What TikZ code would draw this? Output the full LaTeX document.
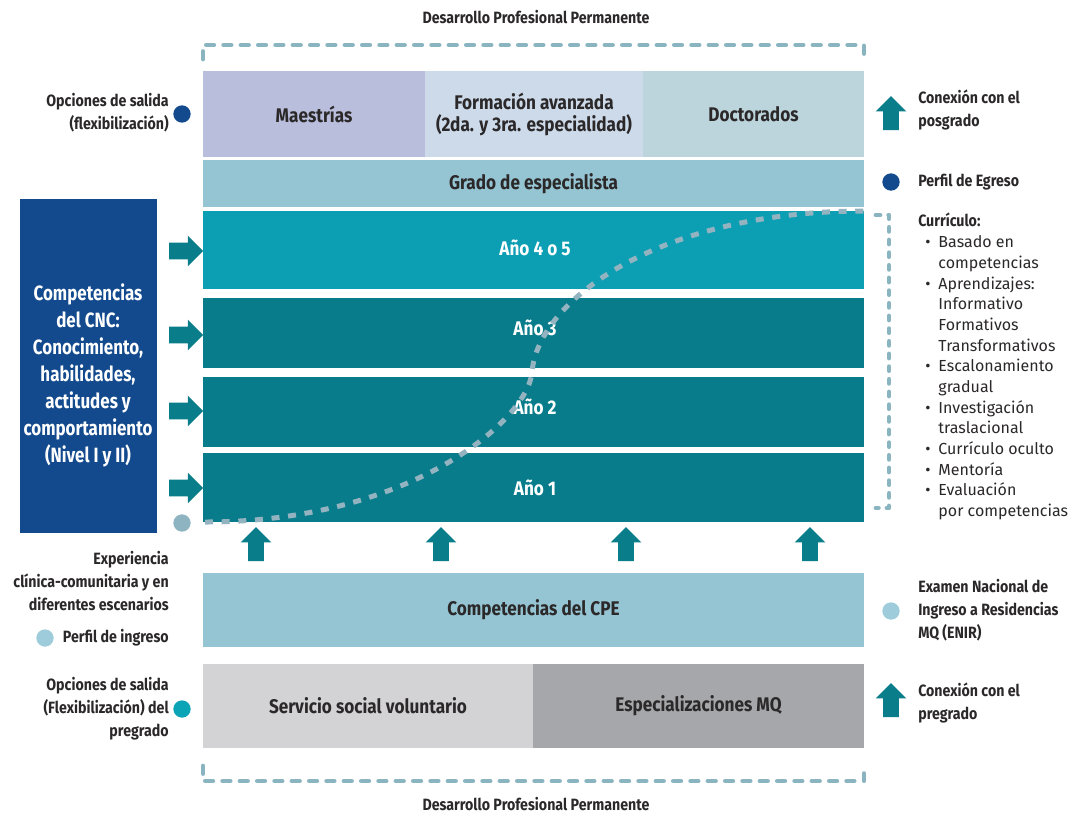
\documentclass[tikz,border=0pt]{standalone}
\usepackage{fontspec}
\setmainfont{Fira Sans}
\newfontfamily\cnd[FakeStretch=0.82]{Fira Sans}
\newfontfamily\cndb[FakeStretch=0.87]{Fira Sans}
\usetikzlibrary{shapes.arrows}
\definecolor{dblue}{HTML}{134A8D}
\definecolor{maes}{HTML}{B9BEDC}
\definecolor{form}{HTML}{CDDAEA}
\definecolor{doct}{HTML}{BCD4DC}
\definecolor{lblue}{HTML}{95C4D2}
\definecolor{yfive}{HTML}{0C9FB4}
\definecolor{yr}{HTML}{087C8A}
\definecolor{arrc}{HTML}{0A7D8B}
\definecolor{serv}{HTML}{D3D3D5}
\definecolor{espe}{HTML}{A6A7AB}
\definecolor{txt}{HTML}{2B2829}
\definecolor{dashc}{HTML}{89B4C0}
\definecolor{curvec}{HTML}{92B3BF}
\definecolor{gdot}{HTML}{8FB4C1}
\definecolor{ldot}{HTML}{9ECCDA}
\definecolor{tdot}{HTML}{0BA3B6}
\newcommand\bx[7]{\node[box,#6,minimum width={(#4-#2)*0.75pt},minimum height={(#5-#3)*0.75pt}] (#1) at ({(#2+#4)/2},{(#3+#5)/2}) {#7};}
\begin{document}
\begin{tikzpicture}[x=0.75pt,y=-0.75pt,
  box/.style={inner sep=0pt,outer sep=0pt,draw=none,text=txt,align=center,
    font=\cndb\bfseries\fontsize{14.8}{16.5}\selectfont},
  wlbl/.style={inner sep=0pt,text=white,align=center,font=\cndb\bfseries\fontsize{14.8}{16.5}\selectfont},
  lbl/.style={inner sep=0pt,text=txt,font=\cndb\bfseries\fontsize{12.25}{17.25}\selectfont},
  dot/.style={circle,inner sep=0pt,minimum size=13pt,draw=none},
  rarr/.style={single arrow,fill=arrc,draw=none,inner sep=6pt,outer sep=0pt,
    minimum height=25.5pt,single arrow head extend=5.25pt},
  uarr/.style={single arrow,fill=arrc,draw=none,inner sep=5.75pt,outer sep=0pt,
    minimum height=25.5pt,shape border rotate=90,single arrow head extend=5.5pt},
  brk/.style={draw=dashc,line width=3.6pt,line cap=round,line join=round,dash pattern=on 5.6pt off 7.4pt},
  brkv/.style={brk,dash pattern=on 3pt off 6.5pt},
  curve/.style={draw=curvec,line width=3.75pt,dash pattern=on 6pt off 6.5pt}]
\useasboundingbox[fill=white] (0,0) rectangle (1073,815);
% boxes
\bx{maes}{203}{71}{425}{157}{fill=maes}{Maestrías}
\bx{form}{425}{71}{643}{157}{fill=form}{Formación avanzada\\(2da. y 3ra. especialidad)}
\bx{doct}{643}{71}{864}{157}{fill=doct}{Doctorados}
\bx{grado}{203}{160}{864}{207}{fill=lblue}{Grado de especialista}
\bx{afive}{203}{211}{864}{289}{fill=yfive}{}
\bx{athree}{203}{298}{864}{368}{fill=yr}{}
\bx{atwo}{203}{377}{864}{447}{fill=yr}{}
\bx{aone}{203}{453}{864}{522}{fill=yr}{}
\bx{cpe}{203}{573}{864}{647}{fill=lblue}{Competencias del CPE}
\bx{serv}{203}{664}{533}{748}{fill=serv}{Servicio social voluntario}
\bx{espe}{533}{664}{864}{748}{fill=espe}{Especializaciones MQ}
\bx{cnc}{20}{199}{157}{533}{fill=dblue}{}
\node[wlbl] (lfive) at (535,248) {Año 4 o 5};
\node[wlbl] (lthree) at (535,328) {Año 3};
\node[wlbl] (ltwo) at (535,407) {Año 2};
\node[wlbl] (lone) at (535,488) {Año 1};
\node[wlbl,font=\cnd\bfseries\fontsize{15.5}{20.25}\selectfont] (cnctext) at (88,375) {Competencias\\del CNC:\\Conocimiento,\\habilidades,\\actitudes y\\comportamiento\\(Nivel I y II)};
% right arrows
\node[rarr] (ra1) at (182,251) {};
\node[rarr] (ra2) at (182,335) {};
\node[rarr] (ra3) at (182,411) {};
\node[rarr] (ra4) at (182,488) {};
% up arrows
\node[uarr] (ua1) at (256,548) {};
\node[uarr] (ua2) at (441,548) {};
\node[uarr] (ua3) at (626,548) {};
\node[uarr] (ua4) at (810,548) {};
\node[uarr] (lg1) at (891,117) {};
\node[uarr] (lg2) at (891,704) {};
% dots
\node[dot,fill=dblue] (d1) at (182,114) {};
\node[dot,fill=dblue] (d2) at (891,182) {};
\node[dot,fill=gdot] (d3) at (182,523) {};
\node[dot,fill=ldot] (d4) at (45,638) {};
\node[dot,fill=tdot] (d5) at (182,709) {};
\node[dot,fill=ldot] (d6) at (891,611) {};
% labels
\node[lbl] (t1) at (536,17) {Desarrollo Profesional Permanente};
\node[lbl] (t2) at (536,804) {Desarrollo Profesional Permanente};
\node[lbl,anchor=east,align=right] (os1) at (169,113) {Opciones de salida\\(flexibilización)};
\node[lbl,anchor=east,align=right] (exp) at (169,581) {Experiencia\\clínica-comunitaria y en\\diferentes escenarios};
\node[lbl,anchor=east] (pin) at (169,638) {Perfil de ingreso};
\node[lbl,anchor=east,align=right] (os2) at (169,709) {Opciones de salida\\(Flexibilización) del\\pregrado};
\node[lbl,anchor=west,align=left] (cp1) at (918,110) {Conexión con el\\posgrado};
\node[lbl,anchor=west] (pe) at (918,182) {Perfil de Egreso};
\node[lbl,anchor=west] (cur) at (918,220) {Currículo:};
\node[lbl,anchor=west,align=left] (enir) at (918,610) {Examen Nacional de\\Ingreso a Residencias\\MQ (ENIR)};
\node[lbl,anchor=west,align=left] (cp2) at (918,703) {Conexión con el\\pregrado};
\node[inner sep=0pt,anchor=north west,text=txt,font=\fontsize{12}{15.5}\selectfont] (list) at (925,233) {%
\begin{tabular}{@{}l@{\hspace{6pt}}l@{}}
\textbullet & Basado en\\
 & competencias\\
\textbullet & Aprendizajes:\\
 & Informativo\\
 & Formativos\\
 & Transformativos\\
\textbullet & Escalonamiento\\
 & gradual\\
\textbullet & Investigación\\
 & traslacional\\
\textbullet & Currículo oculto\\
\textbullet & Mentoría\\
\textbullet & Evaluación\\
 & por competencias
\end{tabular}};
% dashed brackets
\coordinate (bt1) at (203,59);
\coordinate (bt2) at (203,45);
\coordinate (bt3) at (864,45);
\coordinate (bt4) at (864,59);
\draw[brk] (bt1) -- (bt2) -- (bt3) -- (bt4);
\coordinate (bb1) at (203,766);
\coordinate (bb2) at (203,781);
\coordinate (bb3) at (864,781);
\coordinate (bb4) at (864,766);
\draw[brk] (bb1) -- (bb2) -- (bb3) -- (bb4);
\coordinate (br1) at (876,215);
\coordinate (br2) at (889,215);
\coordinate (br3) at (889,508);
\coordinate (br4) at (876,508);
\draw[brkv] (br1) -- (br2) -- (br3) -- (br4);
% S curve
\coordinate (cs) at (205,522);
\coordinate (cm) at (532,372);
\coordinate (ce) at (864,211);
\draw[curve] (cs) .. controls (410,522) and (528,420) .. (cm) .. controls (538,300) and (660,211) .. (ce);
\end{tikzpicture}
\end{document}
